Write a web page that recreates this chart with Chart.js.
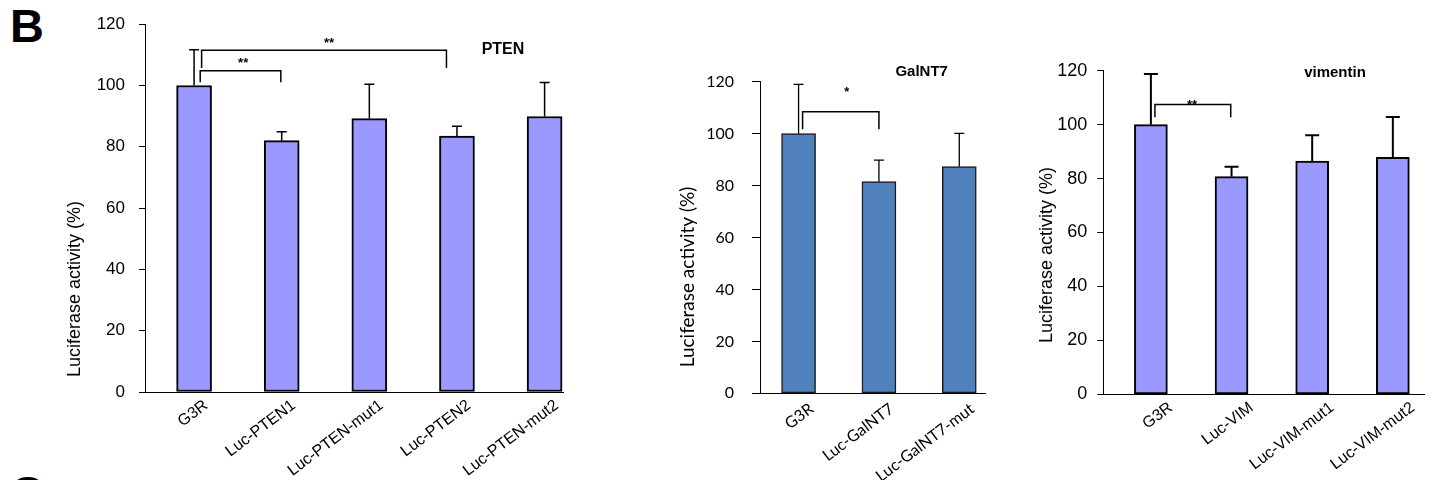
<!DOCTYPE html>
<html>
<head>
<meta charset="utf-8">
<script src="https://cdn.jsdelivr.net/npm/chart.js"></script>
<style>
  body { margin: 0; background: #fff; width: 1435px; height: 480px; overflow: hidden; position: relative; }
  canvas { position: absolute; top: 0; }
  .panel { position: absolute; font: bold 47px "Liberation Sans", Arial, sans-serif; line-height: 47px; color: #000; }
</style>
</head>
<body>
<div class="panel" style="left:10px;top:2px;">B</div>
<div class="panel" style="left:10px;top:469px;">C</div>
<canvas id="pten" width="600" height="480" style="left:0px"></canvas>
<canvas id="galnt7" width="400" height="480" style="left:600px"></canvas>
<canvas id="vim" width="435" height="480" style="left:1000px"></canvas>
<script>
// values (percent of G3R)
const yTicks = [0, 20, 40, 60, 80, 100, 120];

const ptenLabels = ['G3R', 'Luc-PTEN1', 'Luc-PTEN-mut1', 'Luc-PTEN2', 'Luc-PTEN-mut2'];
const ptenValues = [100, 82, 89.2, 83.5, 89.9];
const ptenErrors = [11.7, 2.9, 11.2, 3.2, 11.1];
const ptenBrackets = [
  { from: 0.07, to: 0.99, y: 104.8, drop: 101.1, mark: '**', markX: 0.56, markY: 108.6 },
  { from: 0.086, to: 2.88, y: 111.5, drop: 105.7, mark: '**', markX: 1.54, markY: 115 }
];

const galLabels = ['G3R', 'Luc-GalNT7', 'Luc-GalNT7-mut'];
const galValues = [100, 81.5, 87.3];
const galErrors = [19, 8.3, 12.8];
const galBrackets = [
  { from: 0.05, to: 1.0, y: 108.4, drop: 101.7, mark: '*', markX: 0.6, markY: 117.4 }
];

const vimLabels = ['G3R', 'Luc-VIM', 'Luc-VIM-mut1', 'Luc-VIM-mut2'];
const vimValues = [100, 80.7, 86.5, 87.9];
const vimErrors = [18.8, 3.7, 9.6, 14.9];
const vimBrackets = [
  { from: 0.05, to: 0.99, y: 107.5, drop: 102.7, mark: '**', markX: 0.51, markY: 108.5 }
];

const ARIAL = '"Liberation Sans", Arial, sans-serif';

// error bars, significance brackets, gene name and y title
function makeAnnotate(cfg) {
  return {
    id: 'annotate',
    afterDatasetsDraw(chart) {
      const ctx = chart.ctx;
      const xs = chart.scales.x, ys = chart.scales.y;
      ctx.save();
      ctx.strokeStyle = '#000';
      ctx.fillStyle = '#000';

      ctx.lineWidth = cfg.errWidth;
      cfg.values.forEach((v, i) => {
        const x = xs.getPixelForValue(i);
        const y0 = ys.getPixelForValue(v);
        const y1 = ys.getPixelForValue(v + cfg.errors[i]);
        ctx.beginPath();
        ctx.moveTo(x, y0);
        ctx.lineTo(x, y1);
        ctx.moveTo(x - cfg.cap / 2, y1);
        ctx.lineTo(x + cfg.cap / 2, y1);
        ctx.stroke();
      });

      ctx.lineWidth = 1.5;
      cfg.brackets.forEach(b => {
        const xa = xs.getPixelForValue(b.from), xb = xs.getPixelForValue(b.to);
        const yt = ys.getPixelForValue(b.y), yd = ys.getPixelForValue(b.drop);
        ctx.beginPath();
        ctx.moveTo(xa, yd);
        ctx.lineTo(xa, yt);
        ctx.lineTo(xb, yt);
        ctx.lineTo(xb, yd);
        ctx.stroke();
        ctx.font = 'bold 13px ' + ARIAL;
        ctx.textAlign = 'center';
        ctx.textBaseline = 'alphabetic';
        ctx.fillText(b.mark, xs.getPixelForValue(b.markX), ys.getPixelForValue(b.markY) + 7.5);
      });

      ctx.font = cfg.geneFont;
      ctx.textAlign = 'center';
      ctx.textBaseline = 'middle';
      ctx.fillText(cfg.gene, cfg.geneX, cfg.geneY);

      ctx.font = cfg.titleFont;
      ctx.translate(cfg.titleX, cfg.titleY);
      ctx.rotate(-Math.PI / 2);
      ctx.fillText('Luciferase activity (%)', 0, 0);
      ctx.restore();
    }
  };
}

function makeChart(id, labels, values, s) {
  return new Chart(document.getElementById(id), {
    type: 'bar',
    data: {
      datasets: [{
        data: values.map((v, i) => ({ x: i, y: v })),
        backgroundColor: s.fill,
        borderColor: s.edge,
        borderWidth: s.edgeWidth,
        borderSkipped: false,
        barThickness: s.barWidth
      }]
    },
    options: {
      responsive: false,
      animation: false,
      events: [],
      layout: { padding: { left: 0, right: s.padRight, top: s.padTop, bottom: 0 } },
      scales: {
        x: {
          type: 'linear',
          offset: false,
          bounds: 'data',
          min: s.xMin,
          max: s.xMax,
          afterBuildTicks: sc => { sc.ticks = labels.map((_, i) => ({ value: i })); },
          afterFit: sc => { sc.height = s.xHeight; },
          grid: { display: true, drawOnChartArea: false, drawTicks: false },
          border: { display: true, color: '#000', width: 1 },
          ticks: {
            autoSkip: false,
            minRotation: 37,
            maxRotation: 37,
            padding: s.xPad,
            labelOffset: s.xLabelOffset,
            color: '#000',
            font: s.xFont,
            callback: v => labels[v]
          }
        },
        y: {
          min: 0,
          max: 120,
          afterBuildTicks: sc => { sc.ticks = yTicks.map(v => ({ value: v })); },
          afterFit: sc => { sc.width = s.yWidth; },
          grid: { drawOnChartArea: false, drawTicks: true, tickLength: s.tickLen, color: '#000' },
          border: { display: true, color: '#000', width: 1 },
          ticks: { padding: s.yPad, color: '#000', font: s.yFont }
        }
      },
      plugins: { legend: { display: false }, tooltip: { enabled: false } }
    },
    plugins: [makeAnnotate(s.notes)]
  });
}

makeChart('pten', ptenLabels, ptenValues, {
  fill: '#9999FF', edge: '#000', edgeWidth: 2, barWidth: 35,
  padRight: 37, padTop: 18, xHeight: 88, yWidth: 145,
  xMin: -0.56, xMax: 4.21, xPad: 4, xLabelOffset: 12,
  xFont: { family: ARIAL, size: 16 }, yFont: { family: ARIAL, size: 17 },
  tickLen: 6, yPad: 14,
  notes: {
    values: ptenValues, errors: ptenErrors, brackets: ptenBrackets,
    errWidth: 1.5, cap: 10,
    gene: 'PTEN', geneFont: 'bold 16px ' + ARIAL, geneX: 503, geneY: 50,
    titleFont: '18px ' + ARIAL, titleX: 75, titleY: 289
  }
});

makeChart('galnt7', galLabels, galValues, {
  fill: '#4F81BD', edge: '#1a1a1a', edgeWidth: 1.5, barWidth: 34,
  padRight: 15, padTop: 81.7, xHeight: 86.7, yWidth: 160,
  xMin: -0.48, xMax: 2.32, xPad: 6, xLabelOffset: 13,
  xFont: { family: 'Lato', size: 16 }, yFont: { family: 'Lato', size: 16 },
  tickLen: 8, yPad: 18,
  notes: {
    values: galValues, errors: galErrors, brackets: galBrackets,
    errWidth: 1.3, cap: 10,
    gene: 'GalNT7', geneFont: 'bold 15px ' + ARIAL, geneX: 321.7, geneY: 72.3,
    titleFont: '19px Lato', titleX: 88, titleY: 277
  }
});

makeChart('vim', vimLabels, vimValues, {
  fill: '#9999FF', edge: '#000', edgeWidth: 2, barWidth: 33,
  padRight: 10.7, padTop: 70.7, xHeight: 85.7, yWidth: 103.3,
  xMin: -0.59, xMax: 3.39, xPad: 4, xLabelOffset: 20,
  xFont: { family: ARIAL, size: 16 }, yFont: { family: ARIAL, size: 18 },
  tickLen: 6, yPad: 10,
  notes: {
    values: vimValues, errors: vimErrors, brackets: vimBrackets,
    errWidth: 2, cap: 14,
    gene: 'vimentin', geneFont: 'bold 15px ' + ARIAL, geneX: 335, geneY: 73.3,
    titleFont: '18px ' + ARIAL, titleX: 46.7, titleY: 255
  }
});
</script>
</body>
</html>
